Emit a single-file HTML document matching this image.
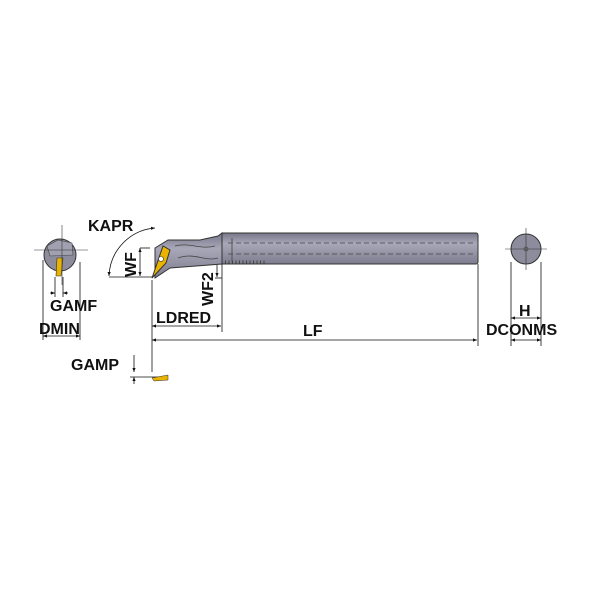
<!DOCTYPE html>
<html><head><style>
body{margin:0;background:#fff}
svg text{font-family:"Liberation Sans",sans-serif;font-weight:bold;font-size:16px;fill:#111}
</style></head><body>
<svg width="600" height="600" viewBox="0 0 600 600" xmlns="http://www.w3.org/2000/svg">
<defs>
<linearGradient id="g" x1="0" y1="0" x2="0" y2="1">
<stop offset="0" stop-color="#77778a"/><stop offset="0.35" stop-color="#a8a8b8"/><stop offset="1" stop-color="#7c7c8f"/>
</linearGradient>
<marker id="a" viewBox="0 0 10 10" refX="10" refY="5" markerWidth="7" markerHeight="5" orient="auto-start-reverse"><path d="M0,1 L10,5 L0,9z" fill="#111"/></marker>
</defs>
<rect x="221" y="233" width="257" height="31" rx="2" fill="url(#g)" stroke="#333" stroke-width="1"/>
<line x1="228" y1="243" x2="476" y2="243" stroke="#444" stroke-dasharray="5,3" stroke-width="0.8"/>
<line x1="228" y1="254" x2="476" y2="254" stroke="#444" stroke-dasharray="5,3" stroke-width="0.8"/>
<line x1="232" y1="238" x2="232" y2="262" stroke="#444" stroke-width="0.8"/>
<path d="M225,262 h40" stroke="#444" stroke-dasharray="1,2.5" stroke-width="3"/>
<path d="M155,248 L168,240 L200,240 L218,236 L222,233 L222,264 L170,268 L155,278 Z" fill="url(#g)" stroke="#333"/>
<path d="M175,246 C190,242 200,250 215,246 M178,258 C195,252 205,262 218,258" stroke="#444" fill="none" stroke-width="0.8"/>
<path d="M152,278 L163,246 L170,250 L166,263 Z" fill="#e8b400" stroke="#333"/>
<circle cx="161" cy="259" r="2.5" fill="#fff" stroke="#333" stroke-width="0.6"/>
<circle cx="60" cy="255" r="16" fill="#8c8c9c" stroke="#333"/>
<path d="M47,246 L58,240 L72,243 L73,255 L50,256Z" fill="#a0a0b0" stroke="#444" stroke-width="0.6"/>
<path d="M57,258 L63,258 L61,276 L56,276Z" fill="#e8b400" stroke="#333" stroke-width="0.6"/>
<line x1="34" y1="250" x2="88" y2="250" stroke="#333" stroke-width="0.6"/>
<line x1="62" y1="225" x2="62" y2="285" stroke="#333" stroke-width="0.6"/>
<circle cx="526" cy="249" r="15" fill="#8c8c9c" stroke="#333"/>
<line x1="505" y1="249" x2="547" y2="249" stroke="#333" stroke-width="0.6"/>
<line x1="526" y1="228" x2="526" y2="270" stroke="#333" stroke-width="0.6"/>
<circle cx="526" cy="249" r="2" fill="none" stroke="#333" stroke-width="0.6"/>
<g stroke="#111" stroke-width="0.8" fill="none">
<line x1="152" y1="280" x2="152" y2="372"/>
<line x1="478" y1="264" x2="478" y2="346"/>
<line x1="222" y1="264" x2="222" y2="332"/>
<line x1="152" y1="340" x2="477" y2="340" marker-start="url(#a)" marker-end="url(#a)"/>
<line x1="152" y1="326" x2="221" y2="326" marker-start="url(#a)" marker-end="url(#a)"/>
<line x1="109" y1="277" x2="152" y2="277"/>
<line x1="140" y1="248" x2="150" y2="248"/>
<line x1="140" y1="248" x2="140" y2="276" marker-start="url(#a)" marker-end="url(#a)"/>
<line x1="215" y1="278" x2="222" y2="278"/>
<line x1="217" y1="265" x2="217" y2="277" marker-end="url(#a)"/>
<path d="M155,228 A50,50 0 0 0 109,276" marker-start="url(#a)" marker-end="url(#a)"/>
<line x1="43" y1="260" x2="43" y2="340"/>
<line x1="80" y1="262" x2="80" y2="340"/>
<line x1="43" y1="336" x2="80" y2="336" marker-start="url(#a)" marker-end="url(#a)"/>
<line x1="55" y1="277" x2="55" y2="297"/>
<line x1="63" y1="277" x2="63" y2="297"/>
<line x1="50" y1="293" x2="55" y2="293" marker-end="url(#a)"/>
<line x1="68" y1="293" x2="63" y2="293" marker-end="url(#a)"/>
<line x1="511" y1="262" x2="511" y2="346"/>
<line x1="541" y1="262" x2="541" y2="346"/>
<line x1="511" y1="318" x2="541" y2="318" marker-start="url(#a)" marker-end="url(#a)"/>
<line x1="511" y1="340" x2="541" y2="340" marker-start="url(#a)" marker-end="url(#a)"/>
<line x1="134" y1="355" x2="134" y2="372" marker-end="url(#a)"/>
<line x1="134" y1="384" x2="134" y2="377" marker-end="url(#a)"/>
<line x1="130" y1="377" x2="168" y2="377"/>
</g>
<path d="M152,378 L168,375 L168,380 L154,381Z" fill="#e8b400" stroke="#333" stroke-width="0.5"/>
<text x="88" y="231">KAPR</text>
<text x="50" y="311">GAMF</text>
<text x="39" y="334">DMIN</text>
<text x="71" y="370">GAMP</text>
<text x="156" y="323">LDRED</text>
<text x="303" y="336">LF</text>
<text x="519" y="316">H</text>
<text x="486" y="335">DCONMS</text>
<text transform="translate(136,277) rotate(-90)">WF</text>
<text transform="translate(213,306) rotate(-90)">WF2</text>
</svg>
</body></html>
